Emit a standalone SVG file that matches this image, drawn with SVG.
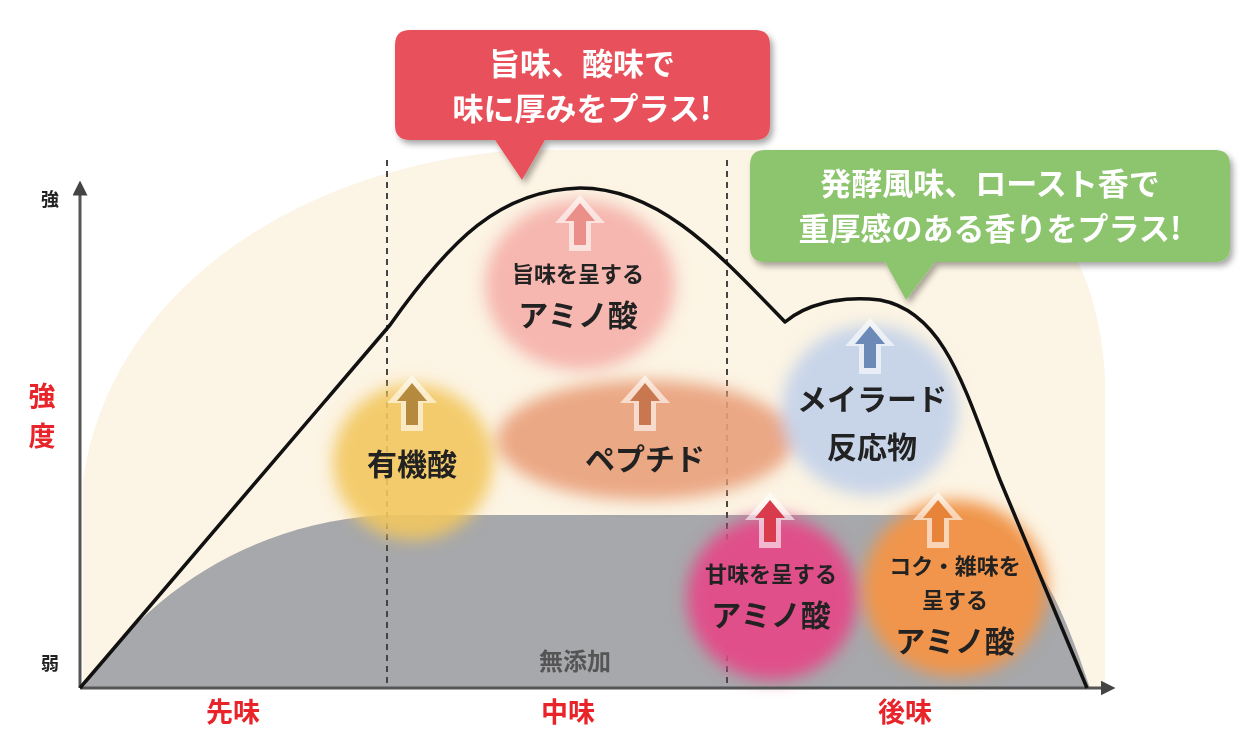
<svg xmlns="http://www.w3.org/2000/svg" width="1256" height="733" viewBox="0 0 1256 733">
<style>
text{font-family:"Noto Sans CJK JP","Noto Sans CJK SC",sans-serif;font-weight:bold;text-anchor:middle}
.lbl{fill:#222;font-size:30px}
.sm{fill:#222;font-size:22px}
.ax{fill:#e8232a;font-size:27px}
.wt{fill:#fff;font-size:31px}
</style>
<defs>
<filter id="blur" x="-30%" y="-30%" width="160%" height="160%"><feGaussianBlur stdDeviation="8"/></filter>
<filter id="sh" x="-10%" y="-10%" width="130%" height="140%"><feDropShadow dx="3" dy="4" stdDeviation="3" flood-color="#000" flood-opacity="0.35"/></filter>
<marker id="ah" viewBox="0 0 10 10" refX="5" refY="5" markerWidth="5" markerHeight="5" orient="auto"><path d="M0,0L10,5L0,10Z" fill="#444"/></marker>
<symbol id="arrow" viewBox="-25 -28 50 56" overflow="visible">
<path d="M0,-28 L25,0 L11,0 L11,28 L-11,28 L-11,0 L-25,0 Z" fill="#fff" opacity="0.6"/>
<path d="M0,-20 L15,-2 L6,-2 L6,22 L-6,22 L-6,-2 L-15,-2 Z"/>
</symbol>
</defs>
<rect width="1256" height="733" fill="#fff"/>
<path d="M83,688 L83,480 C110,290 300,165 520,150 L900,150 C1050,158 1100,270 1105,380 L1105,688 Z" fill="#fcf4e4"/>
<path d="M83,688 C150,590 250,525 380,515 L960,515 C1030,525 1060,600 1090,688 Z" fill="#a7a8ab"/>
<g stroke="#444" stroke-width="2" stroke-dasharray="6,5"><line x1="387" y1="160" x2="387" y2="688"/><line x1="727" y1="160" x2="727" y2="688"/></g>
<g id="blobs" filter="url(#blur)">
<ellipse cx="413" cy="462" rx="80" ry="78" fill="#f2c65e" opacity="0.9"/>
<ellipse cx="645" cy="440" rx="148" ry="60" fill="#e9a07a" opacity="0.9"/>
<ellipse cx="580" cy="285" rx="95" ry="85" fill="#f5b0aa" opacity="0.9"/>
<ellipse cx="870" cy="410" rx="88" ry="85" fill="#c5d3e9" opacity="0.95"/>
<ellipse cx="772" cy="598" rx="85" ry="82" fill="#e04f8a"/>
<ellipse cx="955" cy="588" rx="92" ry="88" fill="#f0954c"/>
</g>
<g id="connectors">
<line x1="80" y1="688" x2="80" y2="188" stroke="#555" stroke-width="3" marker-end="url(#ah)"/>
<line x1="80" y1="688" x2="1108" y2="688" stroke="#555" stroke-width="3" marker-end="url(#ah)"/>
<path d="M80,688 L390,325 C450,240 500,190 580,188 C660,188 720,255 785,322 C805,305 840,295 880,300 C945,312 965,390 1000,480 L1087,688" fill="none" stroke="#111" stroke-width="3.5" stroke-linejoin="round"/>
</g>
<g id="arrows">
<use href="#arrow" x="387" y="375" width="50" height="56" fill="#b58a3e"/>
<use href="#arrow" x="620" y="375" width="50" height="56" fill="#c9774e"/>
<use href="#arrow" x="555" y="195" width="50" height="56" fill="#eb8f8a"/>
<use href="#arrow" x="845" y="318" width="50" height="56" fill="#6c8ab8"/>
<use href="#arrow" x="745" y="492" width="50" height="56" fill="#d83c4c"/>
<use href="#arrow" x="913" y="492" width="50" height="56" fill="#e8843a"/>
</g>
<g id="n-yuki"><text class="lbl" x="412" y="475">有機酸</text></g>
<g id="n-pep"><text class="lbl" x="645" y="470">ペプチド</text></g>
<g id="n-umami"><text class="sm" x="578" y="282">旨味を呈する</text><text class="lbl" x="578" y="326">アミノ酸</text></g>
<g id="n-mai"><text class="lbl" x="872" y="410">メイラード</text><text class="lbl" x="872" y="458">反応物</text></g>
<g id="n-ama"><text class="sm" x="771" y="582">甘味を呈する</text><text class="lbl" x="771" y="626">アミノ酸</text></g>
<g id="n-koku"><text class="sm" x="955" y="574">コク・雑味を</text><text class="sm" x="955" y="608">呈する</text><text class="lbl" x="955" y="652">アミノ酸</text></g>
<g id="n-mutenka"><text x="575" y="670" style="font-size:24px;fill:#555">無添加</text></g>
<g id="callout-red" filter="url(#sh)"><path d="M410,30 H755 Q770,30 770,45 V125 Q770,140 755,140 H545 L522,180 L495,140 H410 Q395,140 395,125 V45 Q395,30 410,30 Z" fill="#e8515b"/>
<text class="wt" x="582" y="75">旨味、酸味で</text><text class="wt" x="582" y="120">味に厚みをプラス!</text></g>
<g id="callout-green" filter="url(#sh)"><path d="M765,150 H1215 Q1230,150 1230,165 V247 Q1230,262 1215,262 H935 L906,300 L885,262 H765 Q750,262 750,247 V165 Q750,150 765,150 Z" fill="#8dc46e"/>
<text class="wt" x="990" y="195">発酵風味、ロースト香で</text><text class="wt" x="990" y="240">重厚感のある香りをプラス!</text></g>
<g id="axis-labels">
<text x="50" y="206" style="font-size:18px;fill:#222">強</text>
<text x="50" y="670" style="font-size:18px;fill:#222">弱</text>
<text class="ax" x="42" y="406">強</text><text class="ax" x="42" y="446">度</text>
<text class="ax" x="233" y="722">先味</text><text class="ax" x="568" y="722">中味</text><text class="ax" x="905" y="722">後味</text>
</g>
</svg>
